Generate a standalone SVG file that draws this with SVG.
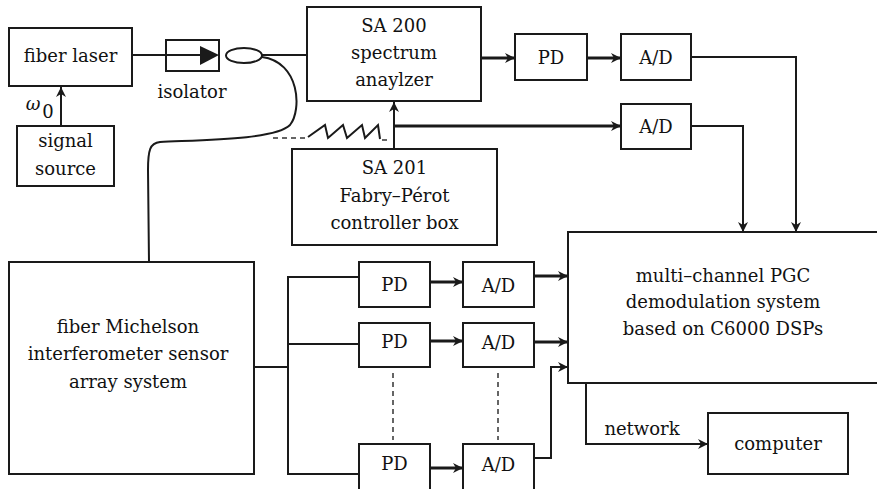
<svg xmlns="http://www.w3.org/2000/svg" width="877" height="489" viewBox="0 0 877 489">
<defs>
<marker id="ah" viewBox="0 0 10 10" refX="10" refY="5" markerWidth="10" markerHeight="10" markerUnits="userSpaceOnUse" orient="auto">
<path d="M0,0 L10,5 L0,10 L3,5 Z" fill="#1a1a1a"/>
</marker>
</defs>
<style>
.box{fill:#fff;stroke:#1a1a1a;stroke-width:2}
.t{font-family:"DejaVu Serif","Liberation Serif",serif;font-size:18px;fill:#111;text-anchor:middle}
.c{fill:none;stroke:#1a1a1a;stroke-width:2}
.ca{fill:none;stroke:#1a1a1a;stroke-width:2;marker-end:url(#ah)}
.ct{fill:none;stroke:#1a1a1a;stroke-width:2.8;marker-end:url(#ah)}
.d{fill:none;stroke:#333;stroke-width:1.5;stroke-dasharray:5,4}
</style>
<rect width="877" height="489" fill="#fff"/>
<g id="connectors">
<path class="ca" d="M61,126 L61,87"/>
<path class="c" d="M132,55 L166,55"/>
<path class="c" d="M262,55 L307,55"/>
<path class="c" d="M262,57 C300,62 302,110 290,125 C275,140 200,140 160,142 C150,143 148,150 148,170 L149,262"/>
<path class="d" d="M273,138 L307,138"/>
<path class="c" stroke-width="1.6" d="M308,137 L325,125 L328,138 L343,125 L347,138 L362,125 L365,138 L378,125 L380,139"/>
<path class="d" d="M382,140 L387,140" stroke-dasharray="2,2"/>
<path class="ct" d="M481,58 L515,58"/>
<path class="ct" d="M587,58 L621,58"/>
<path class="ca" d="M394,149 L394,102"/>
<path class="ct" d="M394,126 L621,126"/>
<path class="ca" d="M691,57 L796,57 L796,232"/>
<path class="ca" d="M691,126 L743,126 L743,232"/>
<path class="c" stroke-width="4.5" d="M254,367 L288,367"/>
<path class="c" d="M359,277 L288,277 L288,474 L359,474"/>
<path class="c" d="M288,344 L359,344"/>
<path class="ct" d="M430,282 L463,282"/>
<path class="ct" d="M430,341 L463,341"/>
<path class="ct" d="M430,468 L463,468"/>
<path class="ct" d="M534,276 L568,276"/>
<path class="ct" d="M534,342 L568,342"/>
<path class="ca" d="M534,458 L551,458 L551,367 L568,367"/>
<path class="d" d="M393,373 L393,440"/>
<path class="d" d="M498,373 L498,440"/>
<path class="ca" d="M586,383 L586,444 L708,444"/>
</g>
<g id="fiber-laser"><rect class="box" x="9" y="28" width="123" height="58"/><text class="t" x="70.5" y="62">fiber laser</text></g>
<g id="signal-source"><rect class="box" x="17" y="126" width="97" height="60"/><text class="t" x="65.5" y="147">signal</text><text class="t" x="65.5" y="175">source</text></g>
<g id="omega"><text class="t" x="33" y="110" font-style="italic">ω</text><text class="t" x="48" y="118" font-size="9">0</text></g>
<g id="isolator"><rect class="box" x="166" y="40" width="53" height="31"/><path class="c" d="M166,55 L205,55"/><path d="M200,46 L219,55 L200,65 Z" fill="#1a1a1a"/><text class="t" x="192" y="98">isolator</text></g>
<g id="coupler"><ellipse cx="244" cy="55.5" rx="18" ry="7.5" fill="#fff" stroke="#1a1a1a" stroke-width="2"/></g>
<g id="sa200"><rect class="box" x="307" y="7" width="174" height="94"/><text class="t" x="394" y="32">SA 200</text><text class="t" x="394" y="59">spectrum</text><text class="t" x="394" y="86">anaylzer</text></g>
<g id="sa201"><rect class="box" x="292" y="149" width="205" height="96"/><text class="t" x="394.5" y="174">SA 201</text><text class="t" x="394.5" y="202">Fabry–Pérot</text><text class="t" x="394.5" y="229">controller box</text></g>
<g id="pd-top"><rect class="box" x="515" y="34" width="72" height="46"/><text class="t" x="551" y="64">PD</text></g>
<g id="ad-top"><rect class="box" x="621" y="34" width="70" height="46"/><text class="t" x="656" y="64">A/D</text></g>
<g id="ad-mid"><rect class="box" x="621" y="104" width="70" height="45"/><text class="t" x="656" y="133">A/D</text></g>
<g id="dsp"><rect class="box" x="568" y="232" width="320" height="151"/><text class="t" x="723" y="282">multi–channel PGC</text><text class="t" x="723" y="308">demodulation system</text><text class="t" x="723" y="335">based on C6000 DSPs</text></g>
<g id="computer"><rect class="box" x="708" y="413" width="140" height="61"/><text class="t" x="778" y="450">computer</text></g>
<g id="network-label"><text class="t" x="642" y="435">network</text></g>
<g id="michelson"><rect class="box" x="9" y="262" width="245" height="212"/><text class="t" x="128" y="333">fiber Michelson</text><text class="t" x="128" y="360">interferometer sensor</text><text class="t" x="128" y="388">array system</text></g>
<g id="pd1"><rect class="box" x="359" y="262" width="71" height="45"/><text class="t" x="394.5" y="291">PD</text></g>
<g id="pd2"><rect class="box" x="359" y="323" width="71" height="44"/><text class="t" x="394.5" y="348">PD</text></g>
<g id="pd3"><rect class="box" x="359" y="444" width="71" height="50"/><text class="t" x="394.5" y="470">PD</text></g>
<g id="ad1"><rect class="box" x="463" y="262" width="71" height="45"/><text class="t" x="498.5" y="292">A/D</text></g>
<g id="ad2"><rect class="box" x="463" y="323" width="71" height="44"/><text class="t" x="498.5" y="349">A/D</text></g>
<g id="ad3"><rect class="box" x="463" y="444" width="71" height="50"/><text class="t" x="498.5" y="471">A/D</text></g>
</svg>
